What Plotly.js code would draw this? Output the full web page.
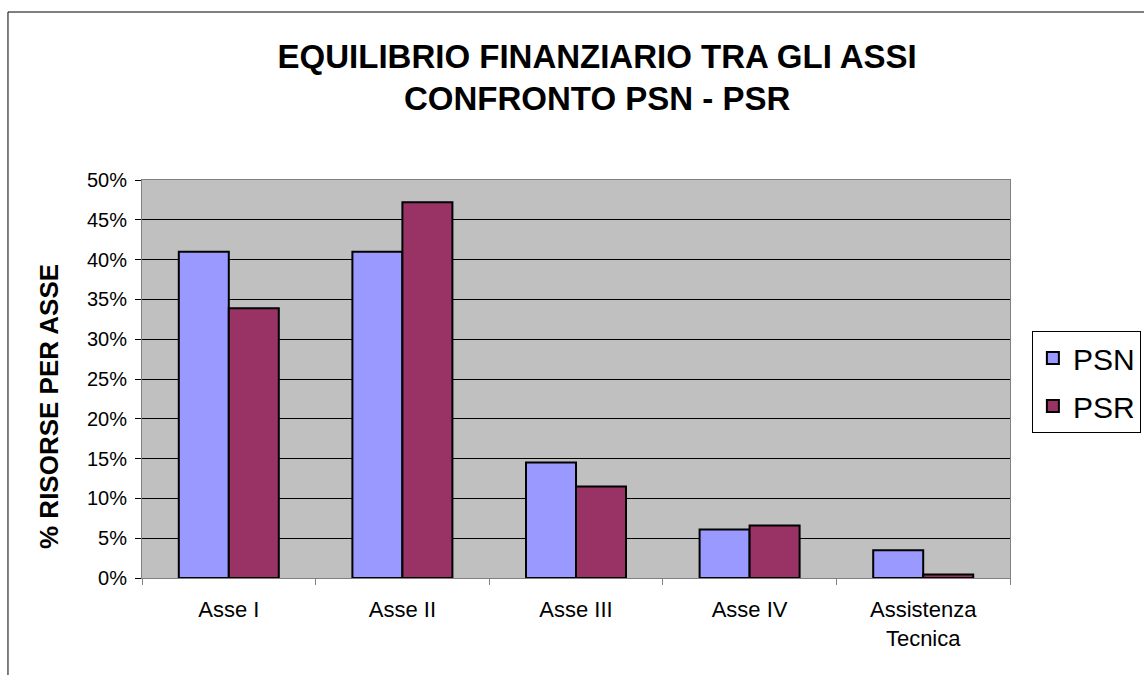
<!DOCTYPE html>
<html>
<head>
<meta charset="utf-8">
<script src="https://cdn.plot.ly/plotly-3.0.1.min.js"></script>
<style>
  html, body { margin: 0; padding: 0; background: #ffffff; }
  #chart { width: 1144px; height: 675px; }
</style>
</head>
<body>
<div id="chart"></div>
<script>
// Data
var categories = ["Asse I", "Asse II", "Asse III", "Asse IV", "Assistenza<br>Tecnica"];
var psnValues = [0.410, 0.410, 0.145, 0.061, 0.035];
var psrValues = [0.339, 0.472, 0.115, 0.066, 0.0045];
var seriesNames = ["PSN", "PSR"];
var yTickValues = [0, 0.05, 0.10, 0.15, 0.20, 0.25, 0.30, 0.35, 0.40, 0.45, 0.50];

var FONT = "Liberation Sans, Arial, Helvetica, sans-serif";

var traces = [
  {
    type: "bar",
    name: seriesNames[0],
    x: categories,
    y: psnValues,
    legendgroup: "a",
    marker: { color: "#9999FF", line: { color: "#000000", width: 2 } },
    hoverinfo: "x+y"
  },
  {
    type: "bar",
    name: seriesNames[1],
    x: categories,
    y: psrValues,
    legendgroup: "b",
    marker: { color: "#993366", line: { color: "#000000", width: 2 } },
    hoverinfo: "x+y"
  }
];

var layout = {
  width: 1144,
  height: 675,
  paper_bgcolor: "#ffffff",
  plot_bgcolor: "#C0C0C0",
  font: { family: FONT, color: "#000000" },
  margin: { l: 142, r: 134, t: 180, b: 97, pad: 0 },
  barmode: "group",
  bargap: 0.424,
  bargroupgap: 0,
  title: {
    text: "<b>EQUILIBRIO FINANZIARIO TRA GLI ASSI<br>CONFRONTO PSN - PSR</b>",
    font: { family: FONT, size: 33, color: "#000000" },
    x: 0.522,
    xanchor: "center",
    xref: "container",
    y: 0.90,
    yanchor: "top",
    yref: "container"
  },
  xaxis: {
    type: "category",
    showgrid: false,
    showline: true,
    linecolor: "#808080",
    linewidth: 1,
    mirror: true,
    ticks: "outside",
    tickson: "boundaries",
    ticklen: 6,
    tickcolor: "#808080",
    tickfont: { family: FONT, size: 22, color: "#000000" },
    ticklabelstandoff: 12,
    zeroline: false,
    fixedrange: true
  },
  yaxis: {
    range: [0, 0.5],
    tickvals: yTickValues,
    tickformat: ".0%",
    showgrid: true,
    gridcolor: "#000000",
    gridwidth: 1,
    showline: true,
    linecolor: "#808080",
    linewidth: 1,
    mirror: true,
    ticks: "outside",
    ticklen: 6,
    tickcolor: "#000000",
    tickfont: { family: FONT, size: 20, color: "#000000" },
    ticklabelstandoff: 4,
    zeroline: false,
    fixedrange: true
  },
  showlegend: true,
  legend: {
    xref: "container",
    yref: "container",
    x: 0.902,
    y: 0.5096,
    xanchor: "left",
    yanchor: "top",
    bgcolor: "#ffffff",
    bordercolor: "#000000",
    borderwidth: 1,
    font: { family: FONT, size: 30, color: "#000000" },
    traceorder: "grouped",
    tracegroupgap: 6
  },
  annotations: [
    {
      text: "<b>% RISORSE PER ASSE</b>",
      xref: "paper",
      yref: "paper",
      x: -0.107,
      y: 0.43,
      xanchor: "center",
      yanchor: "middle",
      textangle: -90,
      showarrow: false,
      font: { family: FONT, size: 26, color: "#000000" }
    }
  ],
  shapes: [
    {
      type: "rect",
      xref: "paper",
      yref: "paper",
      x0: -0.1544,
      x1: 1.2,
      y0: -0.3,
      y1: 1.4221,
      line: { color: "#000000", width: 1 },
      fillcolor: "rgba(0,0,0,0)",
      layer: "below"
    }
  ]
};

Plotly.newPlot("chart", traces, layout, { displayModeBar: false, staticPlot: true });
</script>
</body>
</html>
